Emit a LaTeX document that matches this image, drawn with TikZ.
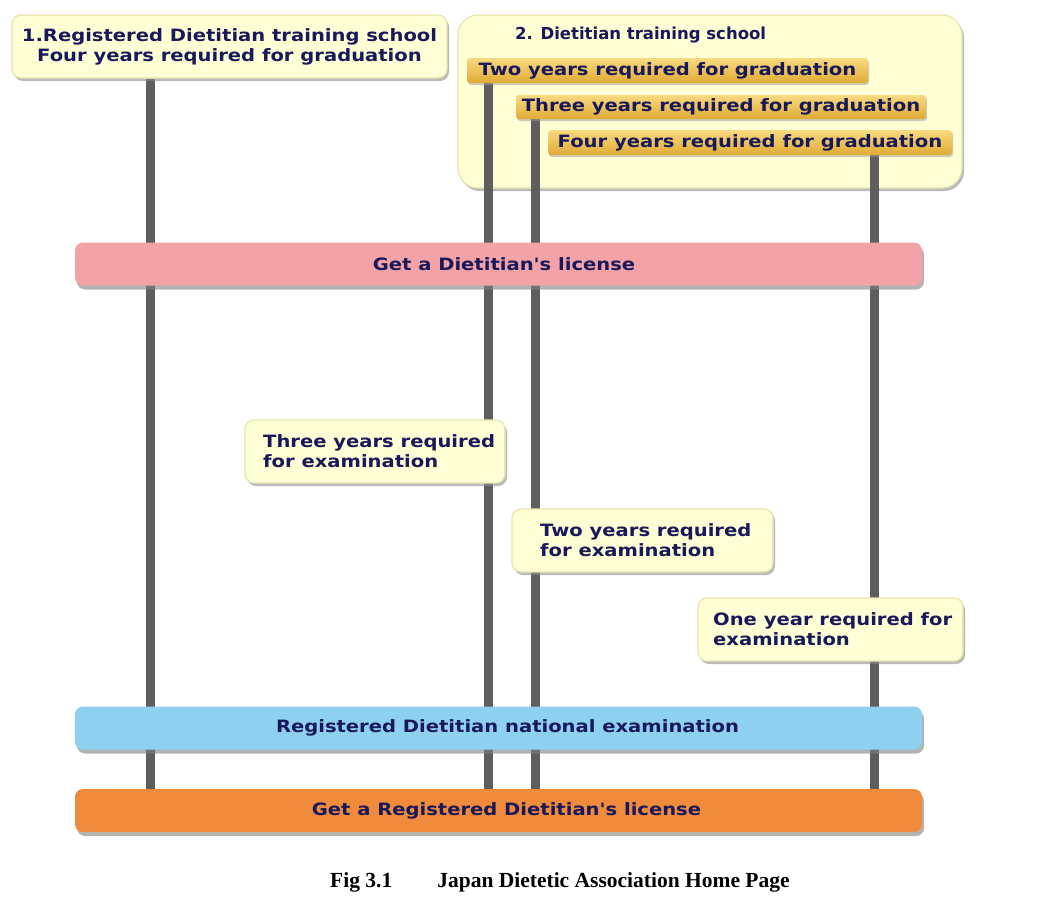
\documentclass[tikz,border=0pt]{standalone}
\usepackage{fontspec}
\setmainfont{Liberation Serif}
\newfontfamily\lbl[FakeStretch=1.15]{DejaVu Sans}
\newfontfamily\lbltitle{DejaVu Sans}
\usetikzlibrary{shadows}
\pgfdeclarelayer{back}
\pgfdeclarelayer{lines}
\pgfsetlayers{back,lines,main}
\definecolor{navy}{HTML}{18185A}
\definecolor{cream}{HTML}{FFFFD6}
\definecolor{creamedge}{HTML}{E8E4AE}
\definecolor{goldtop}{HTML}{F8DA80}
\definecolor{goldbot}{HTML}{E0AA34}
\definecolor{pinkbar}{HTML}{F3A3A7}
\definecolor{bluebar}{HTML}{8ED0F0}
\definecolor{orangebar}{HTML}{EF8B3B}
\definecolor{linegray}{HTML}{5E5E5E}
\tikzset{
  lbltext/.style={text=navy,font=\lbl\bfseries\fontsize{17}{20}\selectfont,inner sep=0pt},
  creambox/.style={draw=creamedge,line width=1.2pt,fill=cream,rounded corners=9pt,
     drop shadow={shadow xshift=2pt,shadow yshift=-3pt,fill=black!45,opacity=0.6},inner sep=0pt},
  goldbar/.style={lbltext,shade,top color=goldtop,bottom color=goldbot,rounded corners=3pt,
     drop shadow={shadow xshift=1pt,shadow yshift=-2pt,fill=black!40,opacity=0.5}},
  widebar/.style={rounded corners=8pt,minimum width=847pt,minimum height=43pt,inner sep=0pt,
     drop shadow={shadow xshift=2pt,shadow yshift=-4pt,fill=black!50,opacity=0.6}},
  vline/.style={draw=linegray,line width=9pt},
}
\begin{document}
\begin{tikzpicture}[x=1pt,y=-1pt]
\useasboundingbox (0,0) rectangle (1060,905);
% column positions
\coordinate (c1) at (150,0);
\coordinate (c2) at (488,0);
\coordinate (c3) at (535,0);
\coordinate (c4) at (874,0);
% top boxes
\node[creambox,lbltext,minimum width=435pt,minimum height=63pt,align=center] (box1) at (229.5,46.5)
  {1.Registered Dietitian training school\\Four years required for graduation};
\begin{pgfonlayer}{back}
\node[creambox,rounded corners=20pt,minimum width=504pt,minimum height=173pt] (box2) at (710,101.5) {};
\end{pgfonlayer}
\node[text=navy,font=\lbltitle\bfseries\fontsize{16.5}{20}\selectfont,inner sep=0pt,anchor=west] (title2) at (515,35) {2. Dietitian training school};
\node[goldbar,minimum width=401pt,minimum height=25pt] (g1) at (667.5,70.5) {Two years required for graduation};
\node[goldbar,minimum width=410pt,minimum height=24pt] (g2) at (721,107) {Three years required for graduation};
\node[goldbar,minimum width=404pt,minimum height=25pt] (g3) at (750,142.5) {Four years required for graduation};
% bars
\node[widebar,fill=pinkbar] (pink) at (498.5,264) {};
\node[lbltext] (pinkt) at (504,264) {Get a Dietitian's license};
\node[widebar,fill=bluebar] (blue) at (498.5,728) {};
\node[lbltext] (bluet) at (507.5,728) {Registered Dietitian national examination};
\node[widebar,fill=orangebar] (orange) at (498.5,810.5) {};
\node[lbltext] (oranget) at (506.5,810.5) {Get a Registered Dietitian's license};
% vertical lines
\begin{pgfonlayer}{lines}
\draw[vline] (box1.south -| c1) -- (orange.north -| c1);
\draw[vline] (g1.south -| c2) -- (orange.north -| c2);
\draw[vline] (g2.south -| c3) -- (orange.north -| c3);
\draw[vline] (g3.south -| c4) -- (orange.north -| c4);
\end{pgfonlayer}
% exam boxes
\node[creambox,minimum width=260pt,minimum height=63pt] (e1) at (375,451.5) {};
\node[lbltext,align=left,anchor=west] (e1t) at (263,451.5) {Three years required\\for examination};
\node[creambox,minimum width=261pt,minimum height=63pt] (e2) at (642.5,540.5) {};
\node[lbltext,align=left,anchor=west] (e2t) at (540,540.5) {Two years required\\for examination};
\node[creambox,minimum width=265pt,minimum height=63pt] (e3) at (830.5,629.5) {};
\node[lbltext,align=left,anchor=west] (e3t) at (713,629.5) {One year required for\\examination};
% caption
\node[font=\bfseries\fontsize{21.5}{24}\selectfont,inner sep=0pt,anchor=base west] (cap) at (330,887)
  {Fig 3.1\hspace{45pt}Japan Dietetic Association Home Page};
\end{tikzpicture}
\end{document}
